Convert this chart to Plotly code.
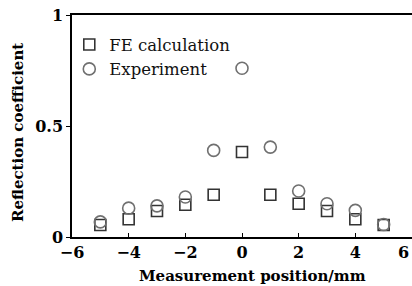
import plotly.graph_objects as go

positions = [-5, -4, -3, -2, -1, 0, 1, 2, 3, 4, 5]
fe_calc = [0.054, 0.08, 0.117, 0.145, 0.19, 0.383, 0.19, 0.15, 0.117, 0.08, 0.054]
experiment = [0.068, 0.13, 0.14, 0.18, 0.39, 0.76, 0.405, 0.207, 0.15, 0.12, 0.056]
x_ticks = [-6, -4, -2, 0, 2, 4, 6]
x_tick_labels = ["\u22126", "\u22124", "\u22122", "0", "2", "4", "6"]
y_ticks = [0, 0.5, 1]
y_tick_labels = ["0", "0.5", "1"]
x_title = "Measurement position/mm"
y_title = "Reflection coefficient"

font_fam = "DejaVu Serif"

fig = go.Figure()
fig.add_trace(go.Scatter(
    x=positions, y=fe_calc, mode="markers", name="FE calculation",
    marker=dict(symbol="square-open", size=11, color="#333333", line=dict(width=1.6)),
))
fig.add_trace(go.Scatter(
    x=positions, y=experiment, mode="markers", name="Experiment",
    marker=dict(symbol="circle-open", size=12, color="#707070", line=dict(width=1.6)),
))

fig.update_layout(
    width=412, height=286,
    margin=dict(l=72, r=0, t=15, b=49, autoexpand=False),
    paper_bgcolor="white", plot_bgcolor="white",
    font=dict(family=font_fam, color="black", size=16),
    showlegend=True,
    legend=dict(x=-0.008, y=0.945, xanchor="left", yanchor="top",
                bgcolor="rgba(0,0,0,0)", font=dict(family=font_fam, size=16.5, color="#111"),
                itemwidth=30, tracegroupgap=0),
    xaxis=dict(
        range=[-6, 6], tickvals=x_ticks, ticktext=x_tick_labels,
        showgrid=False, zeroline=False, showline=True, linecolor="black", linewidth=1.6,
        mirror=True, ticks="inside", ticklen=4, tickcolor="black",
        tickfont=dict(family=font_fam, size=16, weight="bold"),
        automargin=False,
    ),
    yaxis=dict(
        range=[0, 1], tickvals=y_ticks, ticktext=y_tick_labels,
        showgrid=False, zeroline=False, showline=True, linecolor="black", linewidth=1.5,
        ticks="outside", ticklen=4, tickcolor="black",
        tickfont=dict(family=font_fam, size=16, weight="bold"),
        automargin=False,
    ),
    annotations=[
        dict(text="<b>" + x_title + "</b>", xref="paper", yref="paper",
             x=(252 - 72) / 340, y=-(276 - 237) / 222, xanchor="center", yanchor="middle",
             showarrow=False, font=dict(family=font_fam, size=15)),
        dict(text="<b>" + y_title + "</b>", xref="paper", yref="paper",
             x=-(72 - 18) / 340, y=(237 - 133) / 222, xanchor="center", yanchor="middle",
             textangle=-90, showarrow=False, font=dict(family=font_fam, size=15)),
        dict(text="<b>" + x_tick_labels[-1] + "</b>", xref="x", yref="paper",
             x=x_ticks[-1], y=-(252 - 237) / 222, xanchor="right", yanchor="middle",
             xshift=-1, showarrow=False, font=dict(family=font_fam, size=16)),
    ],
)

fig.write_html("out.html", config={"displayModeBar": False},
               post_script="document.body.style.margin='0';")
